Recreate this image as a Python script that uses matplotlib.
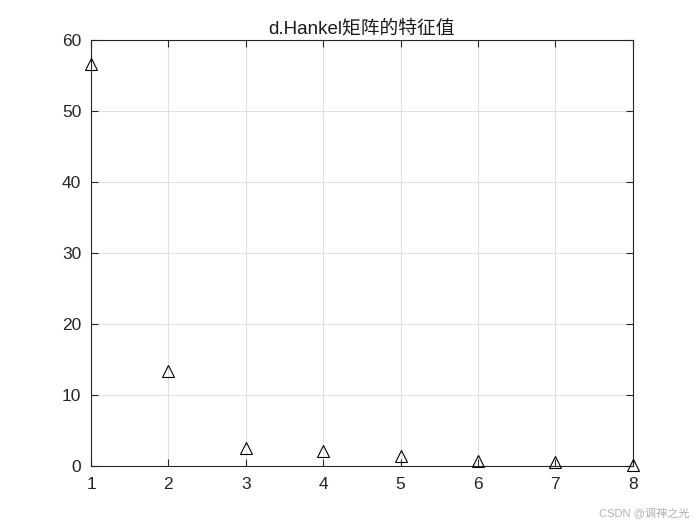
import matplotlib
matplotlib.use("Agg")
import matplotlib.pyplot as plt
import numpy as np

plt.rcParams['font.family'] = ['Liberation Sans', 'Noto Sans CJK SC', 'DejaVu Sans']

# eigenvalues of the Hankel matrix
idx = [1, 2, 3, 4, 5, 6, 7, 8]
eig_vals = [56.6, 13.4, 2.6, 2.15, 1.45, 0.7, 0.5, 0.2]
title_txt = 'd.Hankel矩阵的特征值'

fig = plt.figure(figsize=(7, 5.25), dpi=100)
ax = fig.add_axes([0.13, 0.1124, 0.774, 0.8114])

ax.plot(idx, eig_vals, linestyle='none', marker='^', markersize=8.5,
        markerfacecolor='none', markeredgecolor='black', markeredgewidth=0.8,
        clip_on=False, zorder=5)

ax.set_xlim(1, 8)
ax.set_ylim(0, 60)
ax.set_xticks(np.arange(1, 9))
ax.set_yticks(np.arange(0, 61, 10))
ax.grid(True, color='#e0e0e0', linewidth=0.8)
ax.set_axisbelow(True)
ax.tick_params(direction='in', top=True, right=True, labelsize=12.5, length=5,
               width=0.8, colors='#262626', labelcolor='#262626')
ax.tick_params(axis='x', pad=8)
ax.tick_params(axis='y', pad=7)
for s in ax.spines.values():
    s.set_color('#262626')
    s.set_linewidth(0.8)

ax.set_title(title_txt, fontsize=13.5, color='#1a1a1a', pad=5)

fig.text(0.985, 0.012, 'CSDN @调神之光', ha='right', va='bottom',
         fontsize=8, color='#b0b0b0')

fig.savefig('out.png', dpi=100)
